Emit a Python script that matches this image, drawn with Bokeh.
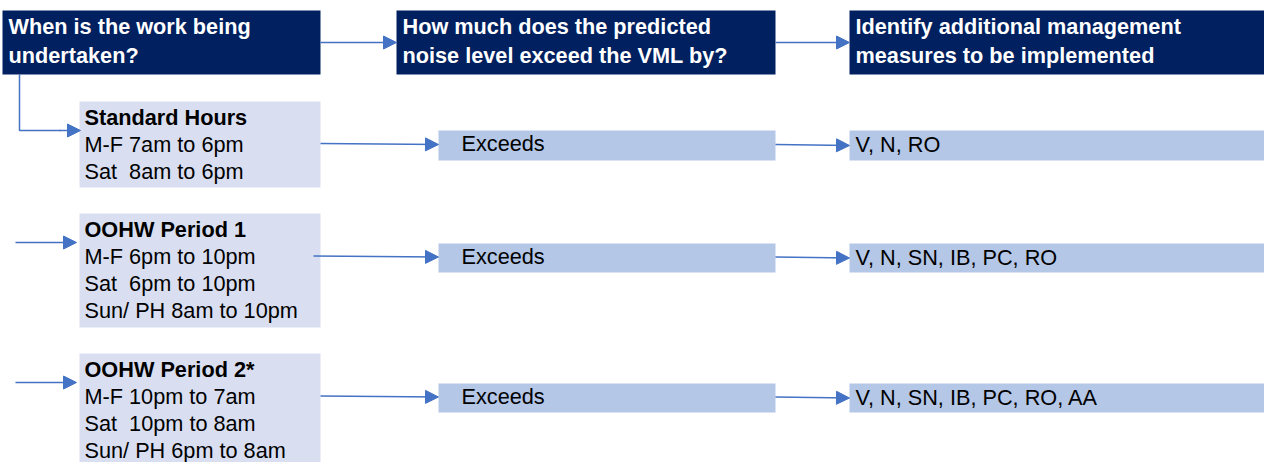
from bokeh.plotting import figure
from bokeh.models import Range1d, Arrow, NormalHead
from bokeh.core.properties import value
from bokeh.embed import file_html
from bokeh.resources import INLINE

# ---- content ----
header_lines = [
    ["When is the work being", "undertaken?"],
    ["How much does the predicted", "noise level exceed the VML by?"],
    ["Identify additional management", "measures to be implemented"],
]
period_titles = ["Standard Hours", "OOHW Period 1", "OOHW Period 2*"]
period_lines = [
    ["M-F 7am to 6pm", "Sat\u00a0 8am to 6pm"],
    ["M-F 6pm to 10pm", "Sat\u00a0 6pm to 10pm", "Sun/ PH 8am to 10pm"],
    ["M-F 10pm to 7am", "Sat\u00a0 10pm to 8am", "Sun/ PH 6pm to 8am"],
]
exceed_labels = ["Exceeds", "Exceeds", "Exceeds"]
measure_labels = ["V, N, RO", "V, N, SN, IB, PC, RO", "V, N, SN, IB, PC, RO, AA"]

# ---- layout (reference pixel coordinates) ----
NAVY = "#002060"
LIGHT = "#D9DFF1"
MID = "#B4C7E7"
ARROW = "#4472C4"
FONT = "Liberation Sans"
FS = "21.7px"

p = figure(width=1264, height=462, output_backend="svg", toolbar_location=None,
           x_range=Range1d(0, 1264), y_range=Range1d(462, 0),
           min_border=0, min_border_left=0, min_border_right=0,
           min_border_top=0, min_border_bottom=0)
p.axis.visible = False
p.grid.visible = False
p.outline_line_color = None
p.background_fill_color = "white"
p.border_fill_color = "white"

# header boxes
hx = [(2, 320), (396, 775), (849, 1270)]
p.quad(left=[a for a, b in hx], right=[b for a, b in hx], top=[10] * 3, bottom=[74] * 3,
       fill_color=NAVY, line_color=None)
for (l, r), lines in zip(hx, header_lines):
    p.text(x=[l + 6] * len(lines), y=[26, 55][:len(lines)], text=lines,
           text_color="white", text_font=value(FONT), text_font_style="bold",
           text_font_size=FS, text_baseline="middle", text_align="left")

# period boxes
pb = [(101, 187), (213, 327), (353, 470)]
p.quad(left=[79] * 3, right=[320] * 3, top=[a for a, b in pb], bottom=[b for a, b in pb],
       fill_color=LIGHT, line_color=None)
for (t, b), title, lines in zip(pb, period_titles, period_lines):
    ys = [t + 16 + 27 * i for i in range(len(lines) + 1)]
    p.text(x=[84], y=[ys[0]], text=[title], text_color="black", text_font=value(FONT),
           text_font_style="bold", text_font_size=FS, text_baseline="middle")
    p.text(x=[84] * len(lines), y=ys[1:], text=lines, text_color="black",
           text_font=value(FONT), text_font_size=FS, text_baseline="middle")

# exceeds & measures boxes
rb = [(130, 160), (243, 272), (383, 412)]
p.quad(left=[438] * 3, right=[775] * 3, top=[a for a, b in rb], bottom=[b for a, b in rb],
       fill_color=MID, line_color=None)
p.quad(left=[849] * 3, right=[1270] * 3, top=[a for a, b in rb], bottom=[b for a, b in rb],
       fill_color=MID, line_color=None)
p.text(x=[461] * 3, y=[(a + b) / 2 - 2 for a, b in rb], text=exceed_labels, text_color="black",
       text_font=value(FONT), text_font_size=FS, text_baseline="middle")
p.text(x=[855] * 3, y=[(a + b) / 2 - 1 for a, b in rb], text=measure_labels, text_color="black",
       text_font=value(FONT), text_font_size=FS, text_baseline="middle")

def arrow(x0, y0, x1, y1):
    p.add_layout(Arrow(end=NormalHead(size=13, fill_color=ARROW, line_color=ARROW),
                       x_start=x0, y_start=y0, x_end=x1, y_end=y1,
                       line_color=ARROW, line_width=1.5))

# header arrows
arrow(320, 42, 396, 42)
arrow(775, 42, 849, 42)
# elbow to standard hours
p.line(x=[19, 19, 60], y=[74, 130, 130], line_color=ARROW, line_width=1.5)
arrow(59, 130, 80, 130)
# incoming arrows rows 2,3
arrow(15, 242, 76, 242)
arrow(15, 382, 76, 382)
# row arrows
starts = [320, 313, 320]
for s, (a, b) in zip(starts, rb):
    yc = (a + b) / 2
    arrow(s, yc - 2, 438, yc - 1)
    arrow(775, yc - 1, 849, yc)

open("out.html", "w").write(file_html(p, INLINE))
